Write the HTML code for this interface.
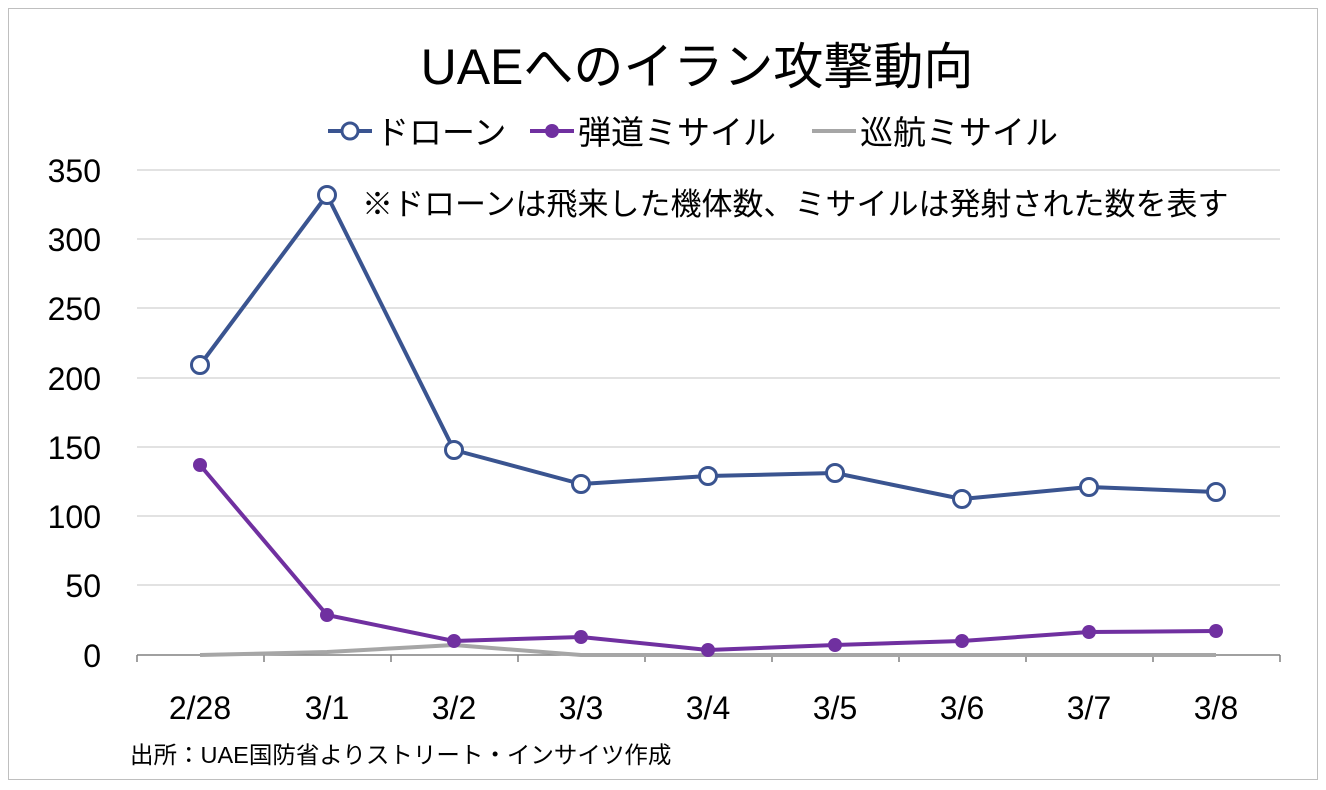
<!DOCTYPE html>
<html><head><meta charset="utf-8"><style>
html,body{margin:0;padding:0;background:#fff;}
svg{display:block;}
text{font-family:"Liberation Sans","Noto Sans CJK JP",sans-serif;}
</style></head><body>
<svg width="1326" height="790" viewBox="0 0 1326 790" xmlns="http://www.w3.org/2000/svg">
<rect x="0" y="0" width="1326" height="790" fill="#fff"/>
<rect x="8.5" y="8.5" width="1309" height="771" fill="none" stroke="#bfbfbf" stroke-width="1"/>
<text x="697" y="84" font-size="50" text-anchor="middle" fill="#000">UAEへのイラン攻撃動向</text>
<!-- legend -->
<line x1="328" y1="131" x2="372" y2="131" stroke="#3a5490" stroke-width="4"/>
<circle cx="350" cy="131" r="8" fill="#fff" stroke="#3a5490" stroke-width="3"/>
<text x="376" y="144" font-size="33" fill="#000">ドローン</text>
<line x1="530" y1="131" x2="574" y2="131" stroke="#7030a0" stroke-width="4"/>
<circle cx="552" cy="131" r="7" fill="#7030a0"/>
<text x="578" y="144" font-size="33" fill="#000">弾道ミサイル</text>
<line x1="812" y1="131" x2="856" y2="131" stroke="#a6a6a6" stroke-width="4"/>
<text x="860" y="144" font-size="33" fill="#000">巡航ミサイル</text>
<!-- grid -->
<g stroke="#d9d9d9" stroke-width="1.5">
<line x1="137" y1="170" x2="1280" y2="170"/>
<line x1="137" y1="239" x2="1280" y2="239"/>
<line x1="137" y1="308" x2="1280" y2="308"/>
<line x1="137" y1="378" x2="1280" y2="378"/>
<line x1="137" y1="447" x2="1280" y2="447"/>
<line x1="137" y1="516" x2="1280" y2="516"/>
<line x1="137" y1="585" x2="1280" y2="585"/>
</g>
<line x1="137" y1="655" x2="1280" y2="655" stroke="#808080" stroke-width="1.5"/>
<g stroke="#808080" stroke-width="1.5">
<line x1="137" y1="655" x2="137" y2="662"/><line x1="264" y1="655" x2="264" y2="662"/><line x1="391" y1="655" x2="391" y2="662"/><line x1="518" y1="655" x2="518" y2="662"/><line x1="645" y1="655" x2="645" y2="662"/><line x1="772" y1="655" x2="772" y2="662"/><line x1="899" y1="655" x2="899" y2="662"/><line x1="1026" y1="655" x2="1026" y2="662"/><line x1="1153" y1="655" x2="1153" y2="662"/><line x1="1280" y1="655" x2="1280" y2="662"/>
</g>
<g font-size="32" fill="#000" text-anchor="end">
<text x="101" y="182">350</text><text x="101" y="251">300</text><text x="101" y="320">250</text><text x="101" y="390">200</text><text x="101" y="459">150</text><text x="101" y="528">100</text><text x="101" y="597">50</text><text x="101" y="667">0</text>
</g>
<g font-size="32" fill="#000" text-anchor="middle">
<text x="200" y="719">2/28</text><text x="327" y="719">3/1</text><text x="454" y="719">3/2</text><text x="581" y="719">3/3</text><text x="708" y="719">3/4</text><text x="835" y="719">3/5</text><text x="962" y="719">3/6</text><text x="1089" y="719">3/7</text><text x="1216" y="719">3/8</text>
</g>
<text x="362" y="215" font-size="31" fill="#000">※ドローンは飛来した機体数、ミサイルは発射された数を表す</text>
<!-- cruise -->
<polyline points="200,655 327,652 454,645 581,655 708,655 835,655 962,655 1089,655 1216,655" fill="none" stroke="#a6a6a6" stroke-width="4" stroke-linejoin="round"/>
<!-- ballistic -->
<polyline points="200,465 327,615 454,641 581,637 708,650 835,645 962,641 1089,632 1216,631" fill="none" stroke="#7030a0" stroke-width="4" stroke-linejoin="round"/>
<g fill="#7030a0">
<circle cx="200" cy="465" r="7"/><circle cx="327" cy="615" r="7"/><circle cx="454" cy="641" r="7"/><circle cx="581" cy="637" r="7"/><circle cx="708" cy="650" r="7"/><circle cx="835" cy="645" r="7"/><circle cx="962" cy="641" r="7"/><circle cx="1089" cy="632" r="7"/><circle cx="1216" cy="631" r="7"/>
</g>
<!-- drone -->
<polyline points="200,365 327,195 454,450 581,484 708,476 835,473 962,499 1089,487 1216,492" fill="none" stroke="#3a5490" stroke-width="4" stroke-linejoin="round"/>
<g fill="#fff" stroke="#3a5490" stroke-width="3">
<circle cx="200" cy="365" r="8.5"/><circle cx="327" cy="195" r="8.5"/><circle cx="454" cy="450" r="8.5"/><circle cx="581" cy="484" r="8.5"/><circle cx="708" cy="476" r="8.5"/><circle cx="835" cy="473" r="8.5"/><circle cx="962" cy="499" r="8.5"/><circle cx="1089" cy="487" r="8.5"/><circle cx="1216" cy="492" r="8.5"/>
</g>
<text x="130" y="763" font-size="23.5" fill="#000">出所：UAE国防省よりストリート・インサイツ作成</text>
</svg>
</body></html>
